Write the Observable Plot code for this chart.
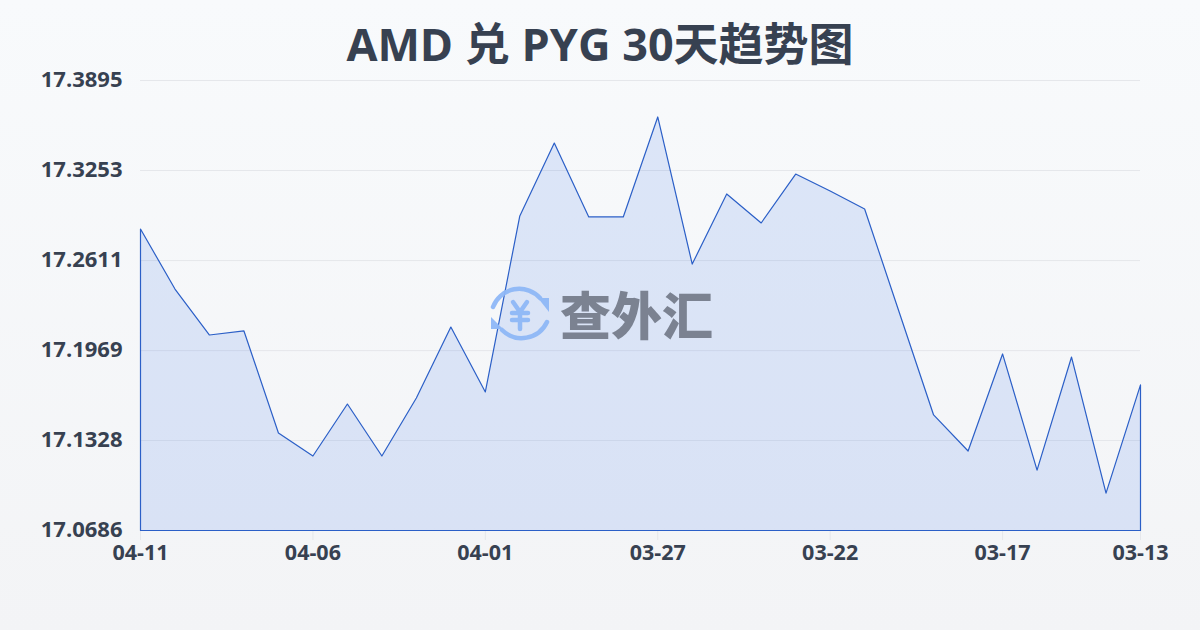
<!DOCTYPE html>
<html><head><meta charset="utf-8">
<script src="https://cdn.jsdelivr.net/npm/d3@7"></script>
<script src="https://cdn.jsdelivr.net/npm/@observablehq/plot@0.6"></script>
<style>
html,body{margin:0;padding:0}
body{width:1200px;height:630px;position:relative;overflow:hidden;background:linear-gradient(180deg,#f8fafc,#f3f4f6);font-family:"Open Sans","Noto Sans CJK SC",sans-serif}
#title{height:70px;padding-top:14px;box-sizing:border-box;line-height:60px;text-align:center;font-size:45px;font-weight:700;color:#374151;white-space:pre}
#chart svg{display:block;background:transparent}
#logo{position:absolute;left:470px;top:270px}
#word{position:absolute;left:560px;top:282px;font-family:"Noto Sans CJK SC";font-size:51px;font-weight:900;line-height:62px;color:#6b7280;opacity:.85;white-space:pre}
</style></head><body>
<div id="title">AMD 兑 PYG 30天趋势图</div>
<div id="chart"></div>
<svg id="logo" width="90" height="90" viewBox="0 0 90 90" fill="none" stroke="#8fb8f7" stroke-width="4.5" stroke-linecap="round" stroke-linejoin="round" opacity="0.95">
<path d="M23 37A28 28 0 0 1 70 28"/><path d="M77 52A28 28 0 0 1 32 60"/>
<path d="M68 28L79 28L79 42Z" fill="#8fb8f7" stroke="none"/><path d="M21 47L21 59L33 59Z" fill="#8fb8f7" stroke="none"/>
<path d="M43 32L50 42L57 32M50 42V59M42 43H58M42 50H58"/></svg>
<div id="word">查外汇</div>
<script>
const dates=["04-11","04-10","04-09","04-08","04-07","04-06","04-05","04-04","04-03","04-02","04-01","03-31","03-30","03-29","03-28","03-27","03-26","03-25","03-24","03-23","03-22","03-21","03-20","03-19","03-18","03-17","03-16","03-15","03-14","03-13"];
const rates=[17.2836,17.2408,17.2080,17.2109,17.1381,17.1217,17.1588,17.1217,17.1631,17.2137,17.1674,17.2929,17.3449,17.2922,17.2922,17.3635,17.2586,17.3086,17.2879,17.3228,17.3107,17.2979,17.2244,17.1510,17.1253,17.1945,17.1117,17.1923,17.0953,17.1724];
const yTicks=[17.0686,17.1328,17.1969,17.2611,17.3253,17.3895];
const xTicks=["04-11","04-06","04-01","03-27","03-22","03-17","03-13"];
const rows=dates.map((d,i)=>({date:d,rate:rates[i],base:yTicks[0]}));
const labelFont='"Open Sans",sans-serif';
const plot=Plot.plot({
  width:1200,height:500,marginTop:10,marginBottom:40,marginLeft:140,marginRight:60,
  style:{background:"transparent",fontFamily:labelFont,overflow:"visible"},
  x:{type:"point",domain:dates,padding:0,round:false,label:null},
  y:{domain:[yTicks[0],yTicks[5]],label:null},
  marks:[
    Plot.gridY(yTicks,{stroke:"#e5e7eb",strokeOpacity:1,strokeWidth:1}),
    Plot.axisX(xTicks,{tickSize:10,stroke:"#e5e7eb",tickPadding:4,fontSize:21.5,fontWeight:700,fill:"#374151"}),
    Plot.area(rows,{x1:"date",y1:"base",y2:"rate",fill:"#2563eb",fillOpacity:0.13,dx:0.5,dy:0.5}),
    Plot.area(rows,{x1:"date",y1:"base",y2:"rate",fill:"none",stroke:"#2b5fc7",strokeWidth:1.2,dx:0.5,dy:0.5}),
    Plot.axisY(yTicks,{tickFormat:d=>d.toFixed(4),tickSize:0,tickPadding:18,fontSize:22,fontWeight:700,fill:"#374151",dy:-1})
  ]
});
document.getElementById("chart").append(plot);
</script></body></html>
